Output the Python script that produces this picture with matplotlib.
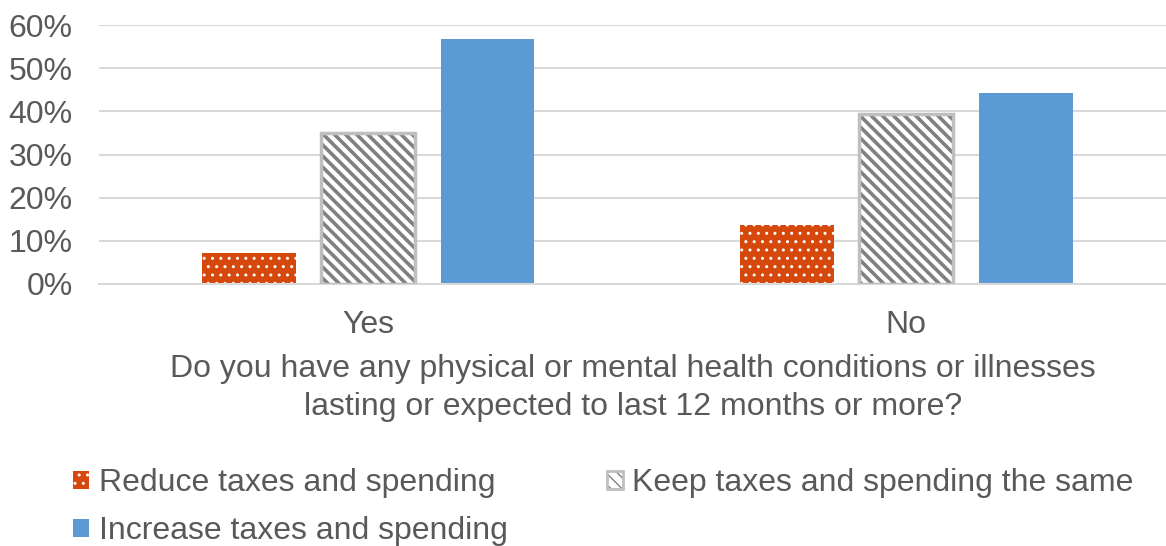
import matplotlib.pyplot as plt
import numpy as np
from matplotlib.patches import Patch

plt.rcParams['font.family'] = ['Liberation Sans', 'DejaVu Sans']

categories = ["Yes", "No"]
reduce_vals = [0.072, 0.137]
keep_vals = [0.35, 0.395]
increase_vals = [0.567, 0.442]
series_names = ["Reduce taxes and spending",
                "Keep taxes and spending the same",
                "Increase taxes and spending"]
xlabel = ("Do you have any physical or mental health conditions or illnesses\n"
          "lasting or expected to last 12 months or more?")

ORANGE = "#D5470B"
BLUE = "#5B9BD5"
TEXT = "#595959"
GRID = "#D9D9D9"
FS = 23

fig = plt.figure(figsize=(11.66, 5.46), dpi=100)
ax = fig.add_axes([0.085, 0.48, 0.923, 0.474])

x = np.arange(len(categories))
w = 0.174
off = 0.222

# reduce: orange with small white dots
with plt.rc_context({'hatch.linewidth': 1.0}):
    ax.bar(x - off, reduce_vals, w, color=ORANGE, edgecolor="white",
           linewidth=0, hatch="..", zorder=2)
    h_reduce = Patch(facecolor=ORANGE, edgecolor="white", hatch="..", linewidth=0)

# keep: white with grey diagonal stripes and a light grey outline
with plt.rc_context({'hatch.linewidth': 2.6}):
    ax.bar(x, keep_vals, w, color="white", edgecolor="#808080",
           linewidth=0, hatch="\\\\\\", zorder=2)
    h_keep_fill = Patch(facecolor="white", edgecolor="#808080",
                        hatch="\\\\\\", linewidth=0)
ax.bar(x, keep_vals, w, fill=False, edgecolor="#BFBFBF", linewidth=2.5, zorder=3)
h_keep_edge = Patch(fill=False, edgecolor="#BFBFBF", linewidth=2)

# increase: solid blue
ax.bar(x + off, increase_vals, w, color=BLUE, zorder=2)
h_increase = Patch(facecolor=BLUE, linewidth=0)

ax.set_xlim(-0.5, 1.5)
ax.set_ylim(0, 0.6)
yt = np.arange(0, 0.61, 0.1)
ax.set_yticks(yt)
ax.set_yticklabels([f"{int(round(v * 100))}%" for v in yt])
ax.set_xticks(x)
ax.set_xticklabels(categories)
ax.tick_params(length=0, labelsize=FS, colors=TEXT)
ax.tick_params(axis="x", pad=19)
ax.tick_params(axis="y", pad=19)
ax.yaxis.grid(True, color=GRID, linewidth=1.5, zorder=0)
ax.set_axisbelow(True)
for s in ["top", "right", "left"]:
    ax.spines[s].set_visible(False)
ax.spines["bottom"].set_color(GRID)
ax.spines["bottom"].set_linewidth(1.5)

ax.set_xlabel(xlabel, fontsize=FS, color=TEXT, labelpad=10, linespacing=1.34)
ax.xaxis.label.set_x(0.5 - 4 / 1076)

leg = fig.legend([h_reduce, h_increase, (h_keep_fill, h_keep_edge)],
                 [series_names[0], series_names[2], series_names[1]],
                 ncol=2, loc="upper left", bbox_to_anchor=(0.063, 0.142),
                 frameon=False, fontsize=FS, handlelength=0.5, handleheight=0.5,
                 handletextpad=0.3, columnspacing=3.1, labelspacing=0.55,
                 borderaxespad=0, borderpad=0)
for t in leg.get_texts():
    t.set_color(TEXT)

fig.savefig("out.png", dpi=100)
